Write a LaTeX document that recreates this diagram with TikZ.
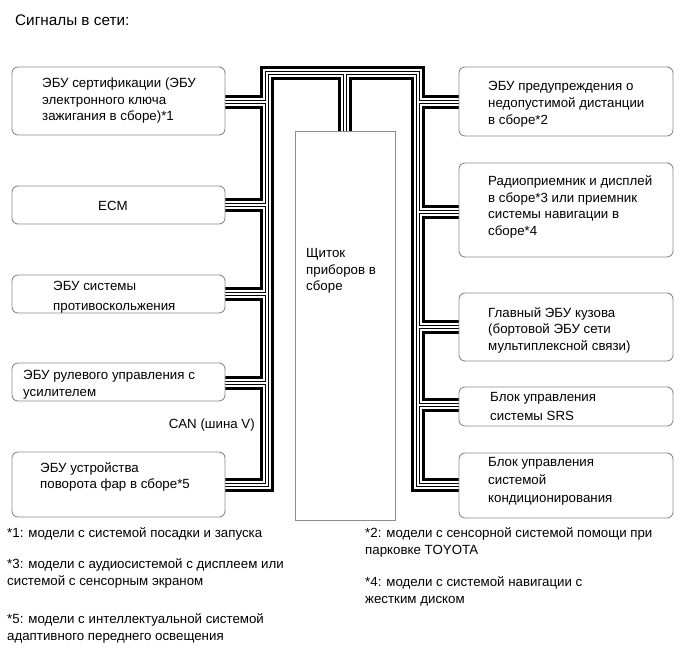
\documentclass[tikz,border=0pt]{standalone}
\usepackage{fontspec}
\setmainfont{Liberation Sans}
\definecolor{boxgrey}{RGB}{140,140,140}
\begin{document}
\begin{tikzpicture}[x=1pt,y=-1pt,
  ecubox/.style={draw=boxgrey, line width=0.9pt, rounded corners=6pt, fill=white, inner sep=0pt},
  clbox/.style={draw=boxgrey, line width=0.9pt, fill=white, inner sep=0pt},
  txt/.style={font=\fontsize{13.3}{16.5}\selectfont, inner sep=0pt, align=left, anchor=north west},
  foot/.style={font=\fontsize{13.3}{17}\selectfont, inner sep=0pt, align=left, anchor=north west}]
\useasboundingbox (0,0) rectangle (690,659);
% title
\node[font=\fontsize{15.3}{18}\selectfont, inner sep=0pt, anchor=north west] (title) at (15,14.5) {Сигналы в сети:};
% bus junction coordinates
\coordinate (jL1) at (267,102);
\coordinate (jL2) at (267,205);
\coordinate (jL3) at (267,294);
\coordinate (jL4) at (267,383);
\coordinate (jL5) at (267,485);
\coordinate (jR1) at (418,102);
\coordinate (jR2) at (418,212);
\coordinate (jR3) at (418,327);
\coordinate (jR4) at (418,405);
\coordinate (jR5) at (418,485);
\coordinate (tl) at (267,73);
\coordinate (tr) at (418,73);
\coordinate (tm) at (344.5,73);
% box corners
\path (12,67) coordinate (l1nw) (225,135) coordinate (l1se)
      (12,186) coordinate (l2nw) (225,224) coordinate (l2se)
      (12,275) coordinate (l3nw) (225,313) coordinate (l3se)
      (12,363) coordinate (l4nw) (225,401) coordinate (l4se)
      (12,452) coordinate (l5nw) (225,517) coordinate (l5se)
      (459,67) coordinate (r1nw) (673,136) coordinate (r1se)
      (459,163) coordinate (r2nw) (673,257) coordinate (r2se)
      (459,293) coordinate (r3nw) (673,361) coordinate (r3se)
      (459,387) coordinate (r4nw) (673,426) coordinate (r4se)
      (459,453) coordinate (r5nw) (673,518) coordinate (r5se)
      (295,131) coordinate (cnw) (395,520) coordinate (cse);
% bus (layered strokes)
\foreach \w/\c in {14/black,8/white,4/black,2/white}{
  \draw[line width=\w pt, draw=\c, line join=miter]
    (l5se |- jL5) -- (jL5) -- (tl) -- (tr) -- (jR5) -- (r5nw |- jR5)
    (l1se |- jL1) -- (jL1)
    (l2se |- jL2) -- (jL2)
    (l3se |- jL3) -- (jL3)
    (l4se |- jL4) -- (jL4)
    (jR1) -- (r1nw |- jR1)
    (jR2) -- (r2nw |- jR2)
    (jR3) -- (r3nw |- jR3)
    (jR4) -- (r4nw |- jR4)
    (tm) -- (tm |- cnw);
}
% box frames
\foreach \b in {l1,l2,l3,l4,l5,r1,r2,r3,r4,r5}{
  \draw[ecubox] (\b nw) rectangle (\b se);
}
\draw[clbox] (cnw) rectangle (cse);
% texts
\node[txt] (tl1) at (42,78) {ЭБУ сертификации (ЭБУ\\электронного ключа\\зажигания в сборе)*1};
\node[txt, anchor=north] (tl2) at (113,201.5) {ECM};
\node[txt, font=\fontsize{13.3}{20}\selectfont] (tl3) at (53,281.5) {ЭБУ системы\\противоскольжения};
\node[txt] (tl4) at (23,370.5) {ЭБУ рулевого управления с\\усилителем};
\node[txt] (tl5) at (40,462) {ЭБУ устройства\\поворота фар в сборе*5};
\node[txt, font=\fontsize{13.3}{17}\selectfont] (tr1) at (488,81) {ЭБУ предупреждения о\\недопустимой дистанции\\в сборе*2};
\node[txt] (tr2) at (488,175.5) {Радиоприемник и дисплей\\в сборе*3 или приемник\\системы навигации в\\сборе*4};
\node[txt] (tr3) at (488,307) {Главный ЭБУ кузова\\(бортовой ЭБУ сети\\мультиплексной связи)};
\node[txt, font=\fontsize{13.3}{19}\selectfont] (tr4) at (490,392) {Блок управления\\системы SRS};
\node[txt, font=\fontsize{13.3}{18}\selectfont] (tr5) at (488,457.5) {Блок управления\\системой\\кондиционирования};
\node[txt] (tc) at (306,248.5) {Щиток\\приборов в\\сборе};
\node[txt, anchor=north east] (can) at (255,419) {CAN (шина V)};
% footnotes
\node[foot] (f1) at (7,527) {*1: модели с системой посадки и запуска};
\node[foot] (f3) at (7,558) {*3: модели с аудиосистемой с дисплеем или\\системой с сенсорным экраном};
\node[foot] (f5) at (7,613) {*5: модели с интеллектуальной системой\\адаптивного переднего освещения};
\node[foot] (f2) at (365,527) {*2: модели с сенсорной системой помощи при\\парковке TOYOTA};
\node[foot] (f4) at (365,576) {*4: модели с системой навигации с\\жестким диском};
\end{tikzpicture}
\end{document}
